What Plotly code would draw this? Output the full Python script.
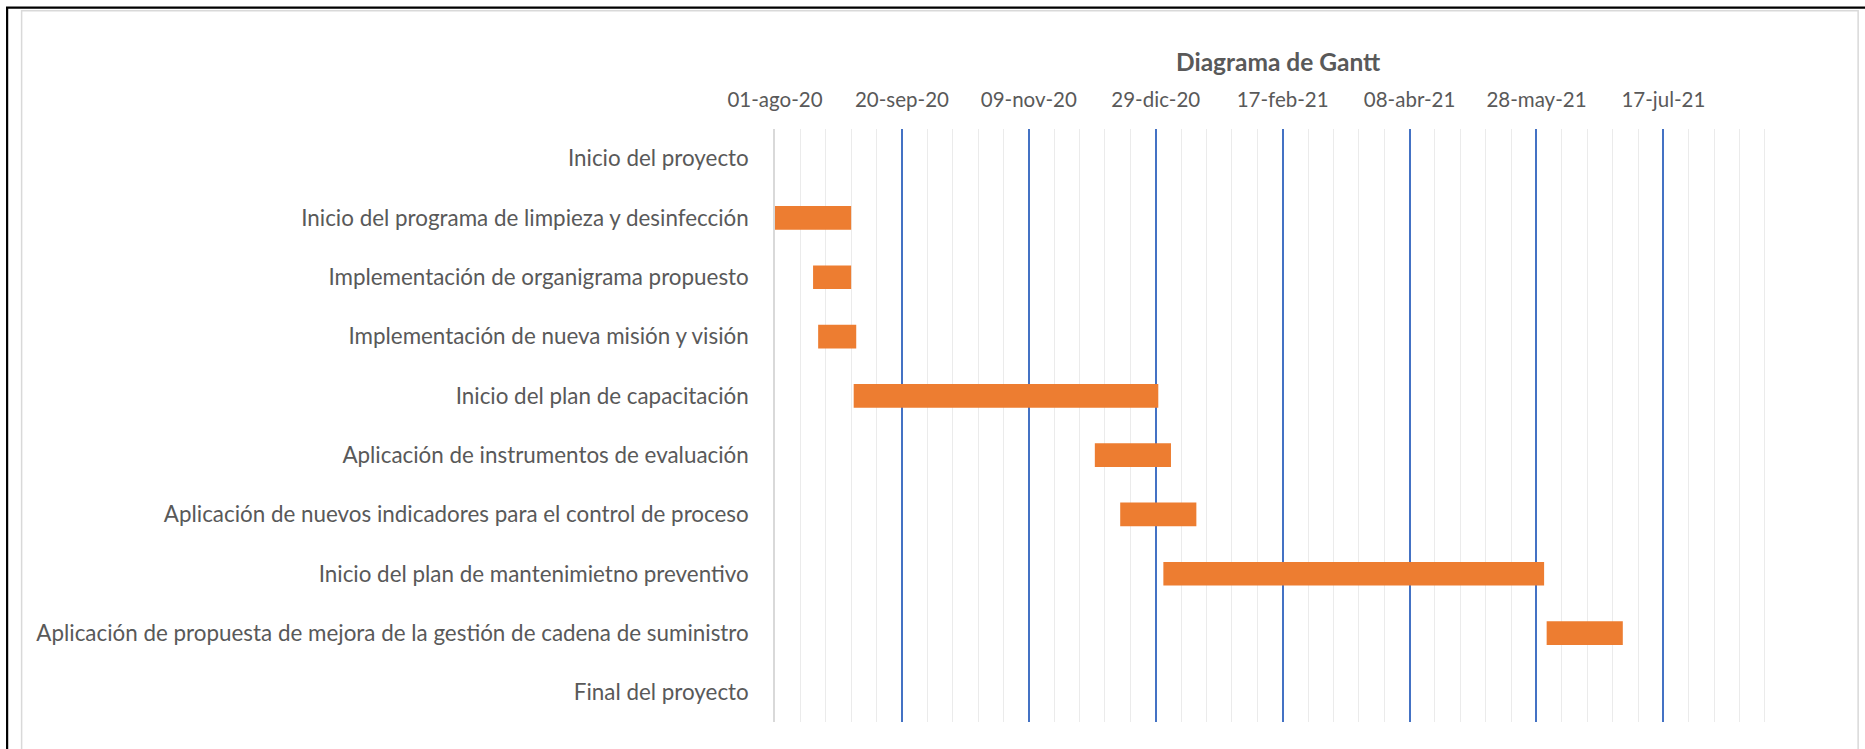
import pandas as pd
import plotly.graph_objects as go

# Activities of the Gantt chart, top to bottom
tasks = [
    "Inicio del proyecto",
    "Inicio del programa de limpieza y desinfección",
    "Implementación de organigrama propuesto",
    "Implementación de nueva misión y visión",
    "Inicio del plan de capacitación",
    "Aplicación de instrumentos de evaluación",
    "Aplicación de nuevos indicadores para el control de proceso",
    "Inicio del plan de mantenimietno preventivo",
    "Aplicación de propuesta de mejora de la gestión de cadena de suministro",
    "Final del proyecto",
]
start_dates = [
    "2020-08-01", "2020-08-01", "2020-08-16", "2020-08-18", "2020-09-01",
    "2020-12-05", "2020-12-15", "2021-01-01", "2021-06-01", "2021-07-01",
]
duration_days = [0, 30, 15, 15, 120, 30, 30, 150, 30, 0]

# Date axis labels (every 50 days)
tick_labels = ["01-ago-20", "20-sep-20", "09-nov-20", "29-dic-20",
               "17-feb-21", "08-abr-21", "28-may-21", "17-jul-21"]
axis_start = "2020-08-01"
axis_end = "2021-08-26"

DAY_MS = 86400000
W, H = 1865, 749
L, R, T, B = 774.5, 98.7, 129.3, 26.7
plot_w = W - L - R
plot_h = H - T - B


def px_x(px):
    return (px - L) / plot_w


def px_y(py):
    return 1 - (py - T) / plot_h


TEXT = "#595959"
FONT = "Lato"

tick_vals = pd.date_range(axis_start, periods=len(tick_labels), freq="50D")
# small pad so the last 10-day gridline on the right edge is still drawn
range_end = pd.Timestamp(axis_end) + pd.Timedelta(hours=10)

fig = go.Figure()
fig.add_trace(go.Bar(
    y=tasks,
    base=start_dates,
    x=[d * DAY_MS for d in duration_days],
    orientation="h",
    width=0.4,
    marker=dict(color="#ED7D31", line=dict(width=0)),
    hoverinfo="skip",
))

fig.update_layout(
    width=W, height=H,
    margin=dict(l=L, r=R, t=T, b=B, pad=0),
    paper_bgcolor="white",
    plot_bgcolor="white",
    showlegend=False,
    font=dict(family=FONT, color=TEXT, size=20),
    xaxis=dict(
        type="date",
        side="top",
        range=[axis_start, range_end],
        tickvals=tick_vals,
        ticktext=tick_labels,
        ticks="",
        ticklabelstandoff=17,
        showgrid=True,
        gridcolor="#4472C4",
        gridwidth=1.6,
        zeroline=False,
        showline=False,
        minor=dict(dtick=10 * DAY_MS, tick0=axis_start, showgrid=True,
                   gridcolor="#EBEBEB", gridwidth=1),
        tickfont=dict(family=FONT, color=TEXT, size=20.5),
        fixedrange=True,
    ),
    yaxis=dict(
        type="category",
        autorange="reversed",
        ticks="",
        ticklabelstandoff=20,
        showgrid=False,
        showline=True,
        linecolor="#D9D9D9",
        linewidth=1.5,
        tickfont=dict(family=FONT, color=TEXT, size=22.4),
        fixedrange=True,
    ),
    annotations=[dict(
        text="<b>Diagrama de Gantt</b>",
        xref="paper", yref="paper",
        x=px_x(1278), y=px_y(61.7),
        xanchor="center", yanchor="middle",
        showarrow=False,
        font=dict(family=FONT, size=24.5, color=TEXT),
    )],
    shapes=[
        # outer black frame (left and top edges)
        dict(type="path", xref="paper", yref="paper",
             path=f"M {px_x(6)},{px_y(760)} L {px_x(6)},{px_y(8)} L {px_x(1870)},{px_y(8)}",
             line=dict(color="black", width=2.2), layer="above"),
        # chart area border
        dict(type="rect", xref="paper", yref="paper",
             x0=px_x(20.5), x1=px_x(1858.5), y0=px_y(760), y1=px_y(11),
             line=dict(color="#D9D9D9", width=1.5), layer="below"),
    ],
)

fig.write_html("out.html")
